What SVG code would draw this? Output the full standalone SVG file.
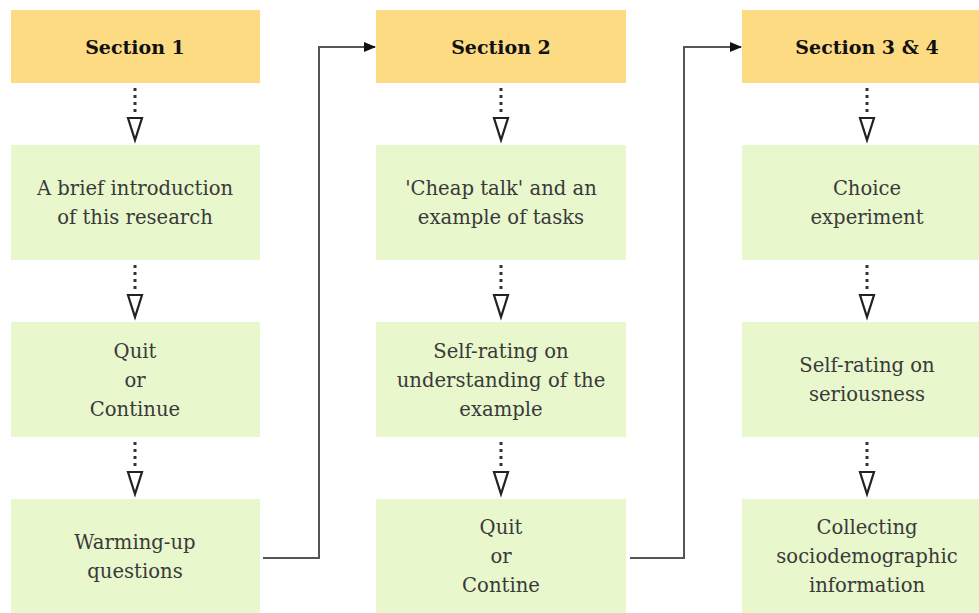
<svg xmlns="http://www.w3.org/2000/svg" width="979" height="613" viewBox="0 0 979 613">
<defs>
<style>
.hdr{fill:#fddb83}
.box{fill:#e8f7cc}
text{font-family:'DejaVu Serif',serif;text-anchor:middle;dominant-baseline:central}
.ht{font-size:19px;font-weight:bold;fill:#111}
.bt{font-size:19.6px;fill:#3a3a3a}
.dot{stroke:#333;stroke-width:3;stroke-dasharray:3 4;fill:none}
.tri{fill:#fff;stroke:#222;stroke-width:2.2;stroke-linejoin:miter}
.flow{stroke:#555;stroke-width:2;fill:none}
</style>
<marker id="ah" markerWidth="12" markerHeight="10" refX="11" refY="5" orient="auto" markerUnits="userSpaceOnUse">
<path d="M0,0 L12,5 L0,10 Z" fill="#111"/>
</marker>
</defs>
<rect width="979" height="613" fill="#fff"/>

<g id="s1"><rect class="hdr" x="11" y="10" width="249" height="73"/><text class="ht" x="135" y="47">Section 1</text></g>
<g id="s1b1"><rect class="box" x="11" y="145" width="249" height="115"/><text class="bt" x="135" y="188">A brief introduction</text><text class="bt" x="135" y="217">of this research</text></g>
<g id="s1b2"><rect class="box" x="11" y="322" width="249" height="115"/><text class="bt" x="135" y="351">Quit</text><text class="bt" x="135" y="380">or</text><text class="bt" x="135" y="409">Continue</text></g>
<g id="s1b3"><rect class="box" x="11" y="499" width="249" height="114"/><text class="bt" x="135" y="542">Warming-up</text><text class="bt" x="135" y="571">questions</text></g>

<g id="s2"><rect class="hdr" x="376" y="10" width="250" height="73"/><text class="ht" x="501" y="47">Section 2</text></g>
<g id="s2b1"><rect class="box" x="376" y="145" width="250" height="115"/><text class="bt" x="501" y="188">'Cheap talk' and an</text><text class="bt" x="501" y="217">example of tasks</text></g>
<g id="s2b2"><rect class="box" x="376" y="322" width="250" height="115"/><text class="bt" x="501" y="351">Self-rating on</text><text class="bt" x="501" y="380">understanding of the</text><text class="bt" x="501" y="409">example</text></g>
<g id="s2b3"><rect class="box" x="376" y="499" width="250" height="114"/><text class="bt" x="501" y="527">Quit</text><text class="bt" x="501" y="556">or</text><text class="bt" x="501" y="585">Contine</text></g>

<g id="s3"><rect class="hdr" x="742" y="10" width="250" height="73"/><text class="ht" x="867" y="47">Section 3 &amp; 4</text></g>
<g id="s3b1"><rect class="box" x="742" y="145" width="250" height="115"/><text class="bt" x="867" y="188">Choice</text><text class="bt" x="867" y="217">experiment</text></g>
<g id="s3b2"><rect class="box" x="742" y="322" width="250" height="115"/><text class="bt" x="867" y="365">Self-rating on</text><text class="bt" x="867" y="394">seriousness</text></g>
<g id="s3b3"><rect class="box" x="742" y="499" width="250" height="114"/><text class="bt" x="867" y="527">Collecting</text><text class="bt" x="867" y="556">sociodemographic</text><text class="bt" x="867" y="585">information</text></g>

<g id="connectors">
<g id="c1a"><path class="dot" d="M135,88 V116"/><path class="tri" d="M128,118 H142 L135,140 Z"/></g>
<g id="c1b"><path class="dot" d="M135,265 V293"/><path class="tri" d="M128,295 H142 L135,317 Z"/></g>
<g id="c1c"><path class="dot" d="M135,442 V470"/><path class="tri" d="M128,472 H142 L135,494 Z"/></g>
<g id="c2a"><path class="dot" d="M501,88 V116"/><path class="tri" d="M494,118 H508 L501,140 Z"/></g>
<g id="c2b"><path class="dot" d="M501,265 V293"/><path class="tri" d="M494,295 H508 L501,317 Z"/></g>
<g id="c2c"><path class="dot" d="M501,442 V470"/><path class="tri" d="M494,472 H508 L501,494 Z"/></g>
<g id="c3a"><path class="dot" d="M867,88 V116"/><path class="tri" d="M860,118 H874 L867,140 Z"/></g>
<g id="c3b"><path class="dot" d="M867,265 V293"/><path class="tri" d="M860,295 H874 L867,317 Z"/></g>
<g id="c3c"><path class="dot" d="M867,442 V470"/><path class="tri" d="M860,472 H874 L867,494 Z"/></g>
<path id="f1" class="flow" d="M263,558 H319 V47 H375" marker-end="url(#ah)"/>
<path id="f2" class="flow" d="M630,558 H684 V47 H741" marker-end="url(#ah)"/>
</g>
</svg>
